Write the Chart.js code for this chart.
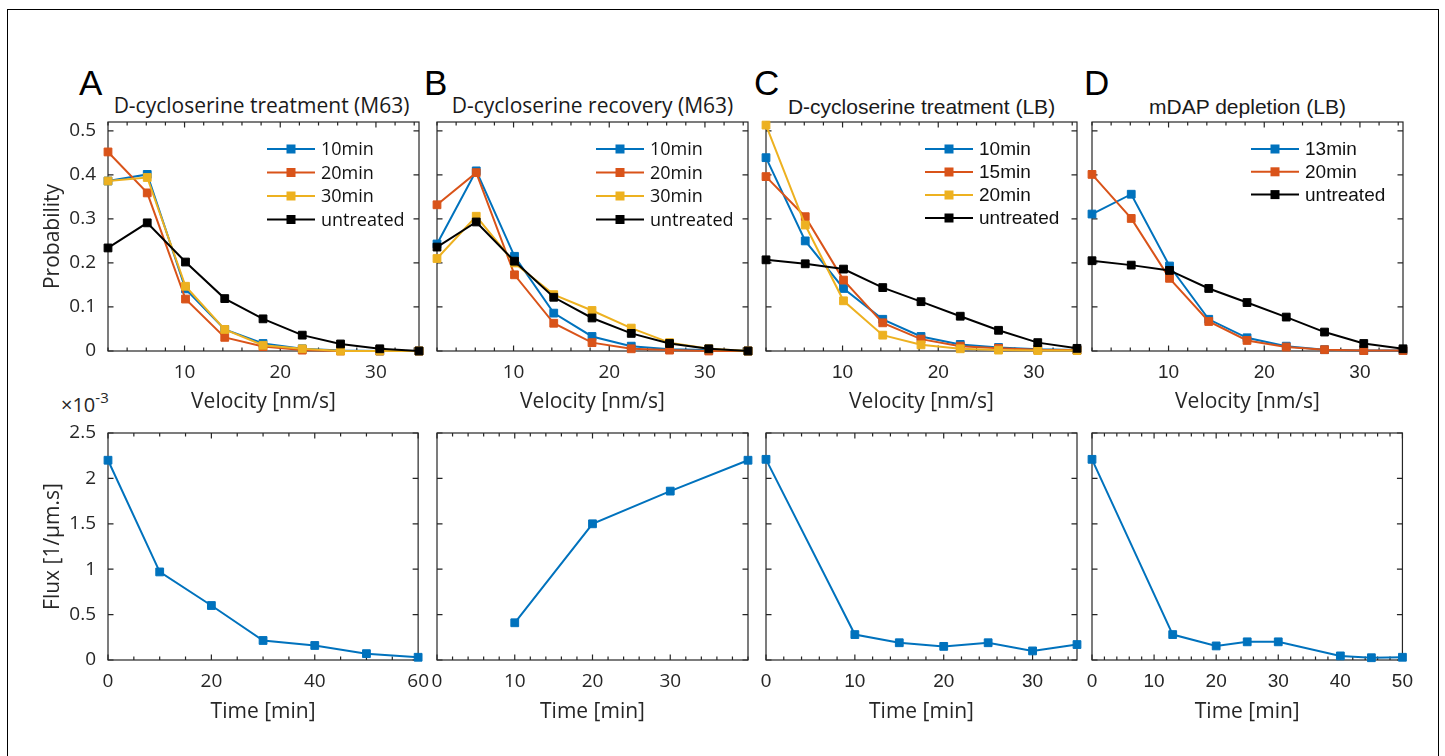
<!DOCTYPE html>
<html>
<head>
<meta charset="utf-8">
<script src="https://cdn.jsdelivr.net/npm/chart.js@4.4.1/dist/chart.umd.min.js"></script>
<style>
  body { margin: 0; background: #fff; width: 1445px; height: 756px; overflow: hidden; position: relative; font-family: "Open Sans", sans-serif; }
  .frame { position: absolute; left: 7px; top: 9px; width: 1432px; height: 800px; border: 1.5px solid #000; box-sizing: border-box; }
  canvas { position: absolute; }
  .letter { position: absolute; top: 65px; font-family: "Liberation Sans", Arial, sans-serif; font-size: 35px; line-height: 35px; color: #000; }
  .ptitle { position: absolute; top: 95px; width: 311px; text-align: center; font-size: 21px; line-height: 21px; color: #1a1a1a; white-space: nowrap; }
  .helv { font-family: "Liberation Sans", Arial, sans-serif; top: 96px; }
  .expo { position: absolute; left: 61px; top: 395px; font-size: 20px; line-height: 20px; color: #262626; white-space: nowrap; }
  .expo span { position: relative; top: -9px; font-size: 15px; }
</style>
</head>
<body>
<div class="frame"></div>

<div class="letter" style="left:79px">A</div>
<div class="letter" style="left:424px">B</div>
<div class="letter" style="left:754px">C</div>
<div class="letter" style="left:1084px">D</div>

<div class="ptitle" style="left:106px">D-cycloserine treatment (M63)</div>
<div class="ptitle" style="left:437px">D-cycloserine recovery (M63)</div>
<div class="ptitle helv" style="left:766px">D-cycloserine treatment (LB)</div>
<div class="ptitle helv" style="left:1092px">mDAP depletion (LB)</div>

<div class="expo">×10<span>-3</span></div>

<script>
// velocity bins (nm/s), shared by the top row
const velocity = [2, 6.1, 10.1, 14.2, 18.2, 22.3, 26.3, 30.4, 34.5];

// A: D-cycloserine treatment (M63)
const a10 = [0.386, 0.401, 0.141, 0.049, 0.017, 0.005, 0.001, 0, 0];
const a20 = [0.452, 0.359, 0.118, 0.031, 0.010, 0.002, 0, 0, 0];
const a30 = [0.386, 0.394, 0.147, 0.049, 0.013, 0.005, 0, 0, 0];
const aUntreated = [0.234, 0.291, 0.202, 0.119, 0.073, 0.036, 0.016, 0.005, 0];

// B: D-cycloserine recovery (M63)
const b10 = [0.243, 0.409, 0.215, 0.086, 0.033, 0.011, 0.004, 0.002, 0];
const b20 = [0.332, 0.405, 0.173, 0.063, 0.019, 0.005, 0.002, 0, 0];
const b30 = [0.21, 0.306, 0.2, 0.128, 0.092, 0.052, 0.019, 0.005, 0];
const bUntreated = [0.236, 0.293, 0.204, 0.122, 0.075, 0.04, 0.017, 0.005, 0];

// C: D-cycloserine treatment (LB)
const c10 = [0.439, 0.25, 0.142, 0.072, 0.033, 0.015, 0.008, 0.004, 0.002];
const c15 = [0.396, 0.305, 0.161, 0.064, 0.027, 0.011, 0.006, 0.003, 0.002];
const c20 = [0.513, 0.286, 0.114, 0.036, 0.014, 0.005, 0.002, 0.001, 0.001];
const cUntreated = [0.207, 0.198, 0.186, 0.144, 0.112, 0.079, 0.047, 0.019, 0.006];

// D: mDAP depletion (LB)
const d13 = [0.311, 0.356, 0.193, 0.072, 0.03, 0.011, 0.003, 0.001, 0.001];
const d20 = [0.401, 0.301, 0.165, 0.067, 0.024, 0.009, 0.003, 0.001, 0.001];
const dUntreated = [0.205, 0.195, 0.183, 0.142, 0.11, 0.077, 0.043, 0.017, 0.005];

// flux over time (x 1e-3, 1/um.s)
const timeA = [0, 10, 20, 30, 40, 50, 60];
const fluxA = [2.2, 0.97, 0.6, 0.215, 0.16, 0.07, 0.03];
const timeB = [10, 20, 30, 40];
const fluxB = [0.41, 1.5, 1.86, 2.2];
const timeC = [0, 10, 15, 20, 25, 30, 35];
const fluxC = [2.21, 0.28, 0.19, 0.15, 0.19, 0.1, 0.17];
const timeD = [0, 13, 20, 25, 30, 40, 45, 50];
const fluxD = [2.21, 0.28, 0.155, 0.2, 0.2, 0.045, 0.025, 0.03];

// tick labels
const probTicks = [0, 0.1, 0.2, 0.3, 0.4, 0.5];
const fluxTicks = [0, 0.5, 1, 1.5, 2, 2.5];
const velocityTicks = [10, 20, 30];
const timeTicksA = [0, 20, 40, 60];
const timeTicksB = [0, 10, 20, 30];
const timeTicksC = [0, 10, 20, 30];
const timeTicksD = [0, 10, 20, 30, 40, 50];

// matlab default colours
const blue = "#0072BD";
const red = "#D95319";
const yellow = "#EDB120";
const black = "#000000";

const MYRIAD = "'Open Sans', sans-serif";
const HELV = "'Liberation Sans', Arial, sans-serif";
const AXIS_COLOR = "#262626";

// box round the axes + inward ticks on all four sides
const matlabAxes = {
  id: "matlabAxes",
  beforeDatasetsDraw(chart, args, opts) {
    const { ctx, chartArea: a, scales } = chart;
    const x = scales.x, y = scales.y;
    ctx.save();
    ctx.strokeStyle = AXIS_COLOR;
    ctx.lineWidth = 1.2;
    ctx.strokeRect(a.left, a.top, a.right - a.left, a.bottom - a.top);
    ctx.beginPath();
    const vTick = (px, len) => {
      ctx.moveTo(px, a.bottom); ctx.lineTo(px, a.bottom - len);
      ctx.moveTo(px, a.top); ctx.lineTo(px, a.top + len);
    };
    const hTick = (py, len) => {
      ctx.moveTo(a.left, py); ctx.lineTo(a.left + len, py);
      ctx.moveTo(a.right, py); ctx.lineTo(a.right - len, py);
    };
    x.ticks.forEach((t) => vTick(x.getPixelForValue(t.value), 5.5));
    if (opts.xMinor) {
      const start = Math.ceil(x.min / opts.xMinor) * opts.xMinor;
      for (let v = start; v <= x.max + 1e-9; v += opts.xMinor) vTick(x.getPixelForValue(v), 3.5);
    }
    y.ticks.forEach((t) => hTick(y.getPixelForValue(t.value), 5.5));
    ctx.stroke();
    ctx.restore();
  },
};

// legend drawn inside the plot, top right, no box (legend boxoff)
const insideLegend = {
  id: "insideLegend",
  afterDatasetsDraw(chart, args, opts) {
    if (!opts.show) return;
    const { ctx, chartArea: a } = chart;
    ctx.save();
    ctx.font = opts.font;
    ctx.textBaseline = "middle";
    ctx.textAlign = "left";
    chart.data.datasets.forEach((ds, i) => {
      const yy = a.top + 27 + i * opts.step;
      const x0 = a.right - 152, x1 = a.right - 104;
      ctx.strokeStyle = ds.borderColor;
      ctx.lineWidth = 2;
      ctx.beginPath();
      ctx.moveTo(x0, yy);
      ctx.lineTo(x1, yy);
      ctx.stroke();
      ctx.fillStyle = ds.borderColor;
      ctx.fillRect((x0 + x1) / 2 - 4.5, yy - 4.5, 9, 9);
      ctx.fillStyle = "#111";
      ctx.fillText(ds.label, a.right - 98, yy + 1);
    });
    ctx.restore();
  },
};

function series(label, xs, ys, color, order) {
  return {
    label: label,
    data: xs.map((v, i) => ({ x: v, y: ys[i] })),
    borderColor: color,
    backgroundColor: color,
    pointBackgroundColor: color,
    pointBorderColor: color,
    borderWidth: 2,
    pointStyle: "rect",
    pointRadius: 5.5,
    pointBorderWidth: 1,
    tension: 0,
    clip: false,
    order: order,
  };
}

const fmt = (v) => String(+(+v).toFixed(3));

function panel(p) {
  const cv = document.createElement("canvas");
  const W = p.plotW + 100;
  cv.width = W;
  cv.height = p.canvasH;
  cv.style.left = p.plotLeft - 80 + "px";
  cv.style.top = p.canvasTop + "px";
  document.body.appendChild(cv);

  const tickFont = { family: p.family, size: 19 };
  const titleFont = { family: MYRIAD, size: 21 };
  const xHeight = p.canvasH - p.padTop - p.plotH;

  return new Chart(cv, {
    type: "line",
    data: { datasets: p.datasets },
    options: {
      responsive: false,
      maintainAspectRatio: false,
      animation: false,
      events: [],
      layout: { padding: { left: 0, right: 20, top: p.padTop, bottom: 0 } },
      plugins: {
        legend: { display: false },
        tooltip: { enabled: false },
        matlabAxes: { xMinor: p.xMinor },
        insideLegend: { show: p.legend, font: p.legendFont, step: p.legendStep },
      },
      scales: {
        x: {
          type: "linear",
          min: p.xMin,
          max: p.xMax,
          afterBuildTicks: (s) => { s.ticks = p.xTicks.map((v) => ({ value: v })); },
          afterFit: (s) => { s.height = xHeight; },
          grid: { display: false, drawTicks: false },
          border: { display: false },
          ticks: { font: tickFont, color: AXIS_COLOR, padding: 10, maxRotation: 0, autoSkip: false, callback: fmt },
          title: { display: true, text: p.xTitle, font: titleFont, color: AXIS_COLOR, padding: { top: 0, bottom: 5.5 } },
        },
        y: {
          type: "linear",
          min: p.yMin,
          max: p.yMax,
          afterBuildTicks: (s) => { s.ticks = p.yTicks.map((v) => ({ value: v })); },
          afterFit: (s) => { s.width = 80; },
          grid: { display: false, drawTicks: false },
          border: { display: false },
          ticks: { display: p.yLabels, font: tickFont, color: AXIS_COLOR, padding: 12, autoSkip: false, callback: fmt },
          title: { display: p.yLabels, text: p.yTitle, font: titleFont, color: AXIS_COLOR, padding: { top: 12, bottom: 0 } },
        },
      },
    },
    plugins: [matlabAxes, insideLegend],
  });
}

// top row: velocity distributions
const plotLefts = [108, 437, 766, 1092];
const topRow = [
  { family: MYRIAD, legendFont: "18px " + MYRIAD, step: 23.5, ds: [series("10min", velocity, a10, blue, 3), series("20min", velocity, a20, red, 2), series("30min", velocity, a30, yellow, 1), series("untreated", velocity, aUntreated, black, 0)] },
  { family: MYRIAD, legendFont: "18px " + MYRIAD, step: 23.5, ds: [series("10min", velocity, b10, blue, 3), series("20min", velocity, b20, red, 2), series("30min", velocity, b30, yellow, 1), series("untreated", velocity, bUntreated, black, 0)] },
  { family: HELV, legendFont: "19px " + HELV, step: 23, ds: [series("10min", velocity, c10, blue, 3), series("15min", velocity, c15, red, 2), series("20min", velocity, c20, yellow, 1), series("untreated", velocity, cUntreated, black, 0)] },
  { family: HELV, legendFont: "19px " + HELV, step: 22.8, ds: [series("13min", velocity, d13, blue, 2), series("20min", velocity, d20, red, 1), series("untreated", velocity, dUntreated, black, 0)] },
];
topRow.forEach((t, i) => {
  panel({
    plotLeft: plotLefts[i], plotW: 311, canvasTop: 60, canvasH: 360, padTop: 62, plotH: 229,
    family: t.family, datasets: t.ds, legend: true, legendFont: t.legendFont, legendStep: t.step,
    xMin: 2, xMax: 34.5, xTicks: velocityTicks, xMinor: 2, xTitle: "Velocity [nm/s]",
    yMin: 0, yMax: 0.52, yTicks: probTicks, yLabels: i === 0, yTitle: "Probability",
  });
});

// bottom row: flux over time
const bottomRow = [
  { family: MYRIAD, t: timeA, f: fluxA, max: 60, ticks: timeTicksA, minor: 5 },
  { family: MYRIAD, t: timeB, f: fluxB, max: 40, ticks: timeTicksB, minor: 2 },
  { family: HELV, t: timeC, f: fluxC, max: 35, ticks: timeTicksC, minor: 2 },
  { family: HELV, t: timeD, f: fluxD, max: 50, ticks: timeTicksD, minor: 2 },
];
bottomRow.forEach((b, i) => {
  panel({
    plotLeft: plotLefts[i], plotW: 311, canvasTop: 400, canvasH: 330, padTop: 33, plotH: 227,
    family: b.family, datasets: [series("flux", b.t, b.f, blue, 0)], legend: false,
    xMin: 0, xMax: b.max, xTicks: b.ticks, xMinor: b.minor, xTitle: "Time [min]",
    yMin: 0, yMax: 2.5, yTicks: fluxTicks, yLabels: i === 0, yTitle: "Flux [1/μm.s]",
  });
});
</script>
</body>
</html>
